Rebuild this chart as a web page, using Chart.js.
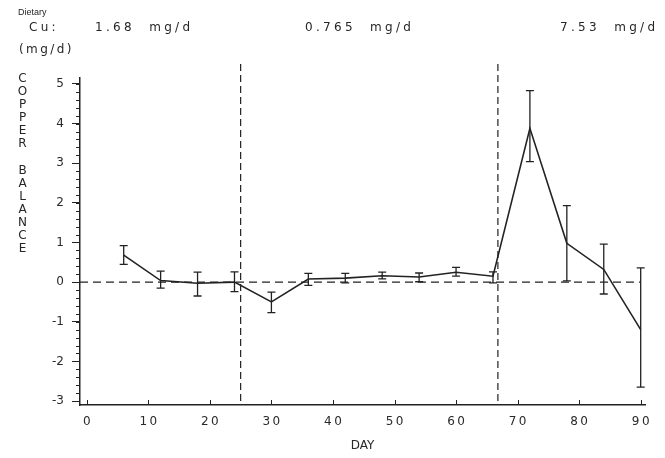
<!DOCTYPE html>
<html>
<head>
<meta charset="utf-8">
<script src="https://cdn.jsdelivr.net/npm/chart.js@4"></script>
<style>
  body { margin: 0; background: #fff; }
  #wrap { position: relative; width: 665px; height: 458px; font-family: "DejaVu Sans", sans-serif; color: #262626; }
  #wrap canvas { position: absolute; left: 0; top: 0; }
  .lbl { position: absolute; font-size: 12px; letter-spacing: 3.3px; white-space: pre; }
  .small { position: absolute; font-size: 9px; font-family: "Liberation Sans", sans-serif; }
  #ytitle { position: absolute; left: 15px; top: 72px; width: 15px; text-align: center; font-size: 12px; line-height: 13.1px; white-space: pre; }
</style>
</head>
<body>
<div id="wrap">
  <canvas id="grafica" width="665" height="458"></canvas>
  <div class="small" style="left:18px; top:7px;">Dietary</div>
  <div class="lbl" style="left:29px; top:20px;">Cu:</div>
  <div class="lbl" id="int0" style="left:95px; top:20px;"></div>
  <div class="lbl" id="int1" style="left:305px; top:20px;"></div>
  <div class="lbl" id="int2" style="left:560px; top:20px;"></div>
  <div class="lbl" style="left:19px; top:42px; letter-spacing:2.4px;">(mg/d)</div>
  <div id="ytitle">C
O
P
P
E
R

B
A
L
A
N
C
E</div>
</div>
<script>
// Eje X: dias de muestreo
const dias = [6, 12, 18, 24, 30, 36, 42, 48, 54, 60, 66, 72, 78, 84, 90];
// Balance de cobre (mg/d) y extremos de la barra de error
const balance = [0.68, 0.04, -0.03, 0.0, -0.5, 0.08, 0.1, 0.16, 0.13, 0.25, 0.15, 3.88, 0.98, 0.32, -1.2];
const errorAlto = [0.92, 0.28, 0.25, 0.26, -0.25, 0.22, 0.22, 0.25, 0.23, 0.37, 0.26, 4.83, 1.93, 0.96, 0.36];
const errorBajo = [0.45, -0.15, -0.35, -0.24, -0.77, -0.08, -0.02, 0.08, 0.01, 0.15, -0.02, 3.04, 0.03, -0.3, -2.65];
// Cambios de dieta y consumo de cobre en cada periodo
const cambiosDieta = [25, 66.8];
const consumoCu = ["1.68 mg/d", "0.765 mg/d", "7.53 mg/d"];
// Etiquetas de los ejes
const ticksX = [0, 10, 20, 30, 40, 50, 60, 70, 80, 90];
const ticksY = [-3, -2, -1, 0, 1, 2, 3, 4, 5];

consumoCu.forEach((t, i) => { document.getElementById("int" + i).textContent = t.replace(" ", "  "); });

const tinta = "#222";

// Lineas punteadas, marcas menores y barras de error
const extras = {
  id: "extras",
  beforeDatasetsDraw(chart) {
    const { ctx, chartArea: a, scales: { x, y } } = chart;
    ctx.save();
    ctx.strokeStyle = tinta;
    ctx.lineWidth = 1.2;
    ctx.setLineDash([8, 5]);
    // linea de balance cero
    ctx.beginPath();
    ctx.moveTo(a.left, y.getPixelForValue(0));
    ctx.lineTo(x.getPixelForValue(90), y.getPixelForValue(0));
    ctx.stroke();
    // cambios de dieta
    ctx.setLineDash([7, 4]);
    cambiosDieta.forEach(d => {
      const px = x.getPixelForValue(d);
      ctx.beginPath();
      ctx.moveTo(px, a.top - 14);
      ctx.lineTo(px, a.bottom);
      ctx.stroke();
    });
    ctx.setLineDash([]);
    ctx.lineWidth = 1;
    // marcas menores del eje Y cada 0.2
    for (let v = -3; v <= 5.001; v += 0.2) {
      const py = Math.round(y.getPixelForValue(v)) + 0.5;
      ctx.beginPath();
      ctx.moveTo(a.left - 4, py);
      ctx.lineTo(a.left, py);
      ctx.stroke();
    }
    // marcas del eje X hacia arriba
    ticksX.forEach(v => {
      const px = Math.round(x.getPixelForValue(v)) + 0.5;
      ctx.beginPath();
      ctx.moveTo(px, a.bottom);
      ctx.lineTo(px, a.bottom - 5);
      ctx.stroke();
    });
    ctx.restore();
  },
  afterDatasetsDraw(chart) {
    const { ctx, scales: { x, y } } = chart;
    ctx.save();
    ctx.strokeStyle = tinta;
    ctx.lineWidth = 1.3;
    dias.forEach((d, i) => {
      const px = x.getPixelForValue(d);
      const yA = y.getPixelForValue(errorAlto[i]);
      const yB = y.getPixelForValue(errorBajo[i]);
      ctx.beginPath();
      ctx.moveTo(px, yA); ctx.lineTo(px, yB);
      ctx.moveTo(px - 4, yA); ctx.lineTo(px + 4, yA);
      ctx.moveTo(px - 4, yB); ctx.lineTo(px + 4, yB);
      ctx.stroke();
    });
    ctx.restore();
  }
};

const ctx = document.getElementById("grafica").getContext("2d");
new Chart(ctx, {
  type: "line",
  data: {
    datasets: [{
      label: "Balance de cobre",
      data: dias.map((d, i) => ({ x: d, y: balance[i] })),
      borderColor: tinta,
      borderWidth: 1.6,
      pointRadius: 0,
      tension: 0,
      fill: false
    }]
  },
  options: {
    responsive: false,
    animation: false,
    layout: { padding: { top: 78, right: 20, left: 0, bottom: 0 } },
    plugins: { legend: { display: false }, tooltip: { enabled: false } },
    scales: {
      x: {
        type: "linear",
        min: -1.1,
        max: 90.7,
        afterBuildTicks: s => { s.ticks = ticksX.map(v => ({ value: v })); },
        afterFit: s => { s.height = 53; },
        grid: { drawOnChartArea: false, drawTicks: false },
        border: { color: tinta, width: 1.5 },
        ticks: { color: "#2a2a2a", padding: 10, font: { family: "DejaVu Sans", size: 12 }, maxRotation: 0,
                 callback: v => String(v).split("").join("\u2009") },
        title: { display: true, text: "DAY", color: "#2a2a2a", font: { family: "DejaVu Sans", size: 12 },
                 padding: { top: 2, bottom: 5 } }
      },
      y: {
        min: -3.1,
        max: 5.15,
        afterBuildTicks: s => { s.ticks = ticksY.map(v => ({ value: v })); },
        afterFit: s => { s.width = 80; },
        grid: { drawOnChartArea: false, tickLength: 8, color: tinta },
        border: { color: tinta, width: 1.5 },
        ticks: { color: "#2a2a2a", padding: 8, font: { family: "DejaVu Sans", size: 12 } }
      }
    }
  },
  plugins: [extras]
});
</script>
</body>
</html>
